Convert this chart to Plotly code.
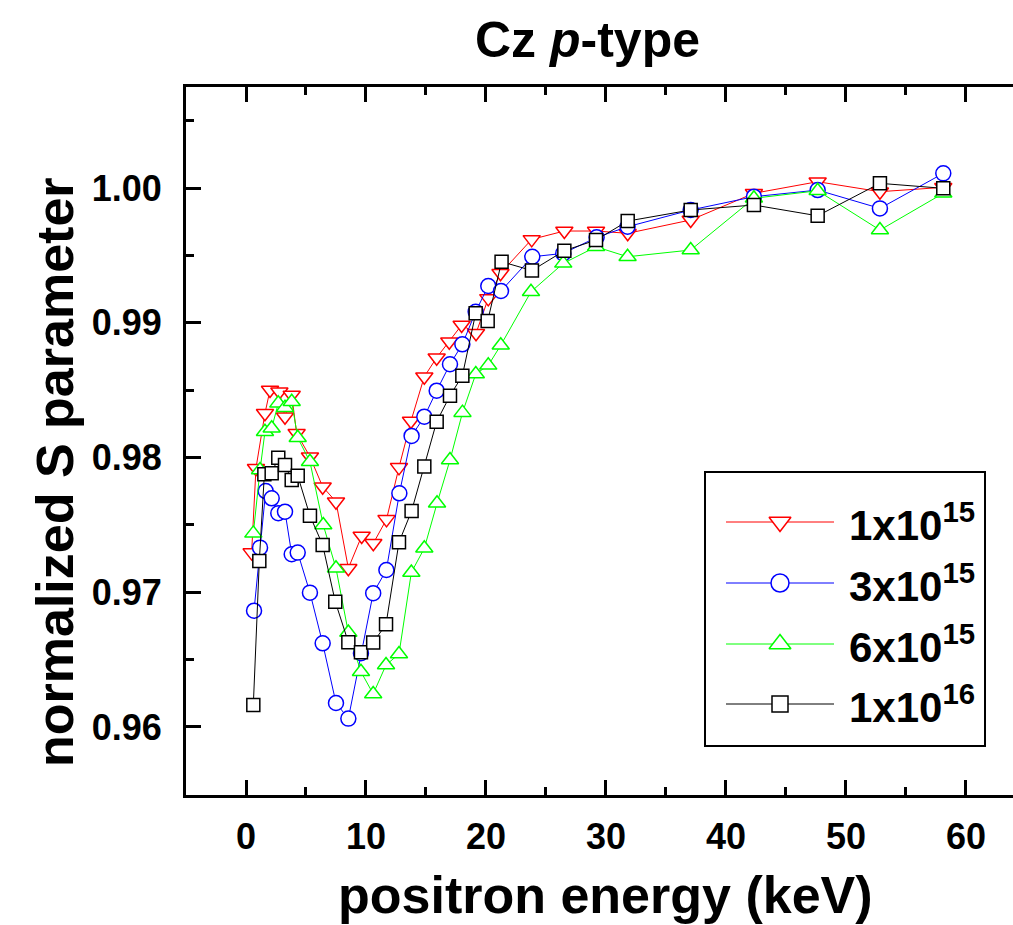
import plotly.graph_objects as go

# ---------------- data ----------------
E_1e15 = [0.47, 0.83, 1.58, 2.0, 2.78, 3.25, 3.81, 4.22, 5.33, 6.39, 7.5, 8.53, 9.64, 10.61, 11.71,
          12.75, 13.75, 14.86, 15.89, 16.94, 17.97, 19.17, 20.19, 21.21, 23.81, 26.53, 29.17, 31.81,
          37.06, 42.33, 47.64, 52.83, 58.11]
S_1e15 = [0.97294, 0.97920, 0.98328, 0.98501, 0.98488, 0.98303, 0.98464, 0.98180, 0.98006, 0.97783,
          0.97672, 0.97178, 0.97417, 0.97363, 0.97541, 0.97927, 0.98271, 0.98600, 0.98741, 0.98859,
          0.98983, 0.98922, 0.99181, 0.99367, 0.99619, 0.99681, 0.99681, 0.99664, 0.99763, 0.99961,
          1.00047, 0.99973, 1.00005]

E_3e15 = [0.67, 1.17, 1.64, 2.14, 2.69, 3.25, 3.81, 4.31, 5.33, 6.39, 7.5, 8.53, 9.58, 10.6, 11.7,
          12.78, 13.8, 14.86, 15.89, 17.0, 18.03, 19.14, 20.19, 21.25, 23.86, 26.44, 29.22, 31.8,
          37.06, 42.33, 47.64, 52.83, 58.11]
S_3e15 = [0.96863, 0.97331, 0.97751, 0.97697, 0.97586, 0.97598, 0.97282, 0.97294, 0.96997, 0.96621,
          0.96178, 0.96062, 0.96547, 0.96993, 0.97165, 0.97734, 0.98160, 0.98303, 0.98496, 0.98692,
          0.98840, 0.99082, 0.99273, 0.99236, 0.99490, 0.99515, 0.99634, 0.99713, 0.99837, 0.99936,
          0.99985, 0.99849, 1.00109]

E_6e15 = [0.61, 1.17, 1.58, 2.14, 2.69, 3.25, 3.81, 4.31, 5.33, 6.44, 7.5, 8.53, 9.58, 10.6, 11.67,
          12.75, 13.78, 14.86, 15.92, 17.0, 18.04, 19.15, 20.19, 21.23, 23.75, 26.44, 29.17, 31.8,
          37.06, 42.33, 47.64, 52.83, 58.11]
S_6e15 = [0.97437, 0.97907, 0.98191, 0.98217, 0.98402, 0.98370, 0.98414, 0.98147, 0.97969, 0.97499,
          0.97178, 0.96701, 0.96410, 0.96245, 0.96460, 0.96542, 0.97147, 0.97326, 0.97660, 0.97981,
          0.98333, 0.98620, 0.98684, 0.98833, 0.99230, 0.99441, 0.99564, 0.99490, 0.99540, 0.99924,
          0.99980, 0.99688, 0.99961]

E_1e16 = [0.61, 1.11, 1.53, 2.14, 2.69, 3.25, 3.81, 4.31, 5.33, 6.39, 7.44, 8.53, 9.58, 10.6, 11.67,
          12.75, 13.8, 14.86, 15.89, 17.0, 18.03, 19.14, 20.14, 21.3, 23.83, 26.53, 29.17, 31.81,
          37.06, 42.33, 47.64, 52.83, 58.11]
S_1e16 = [0.96163, 0.97232, 0.97875, 0.97883, 0.97999, 0.97944, 0.97833, 0.97865, 0.97568, 0.97351,
          0.96930, 0.96629, 0.96554, 0.96626, 0.96762, 0.97371, 0.97603, 0.97933, 0.98266, 0.98459,
          0.98607, 0.99070, 0.99013, 0.99453, 0.99388, 0.99535, 0.99614, 0.99755, 0.99837, 0.99874,
          0.99794, 1.00035, 0.99998]

series_labels = ["1x10<sup>15</sup>", "3x10<sup>15</sup>", "6x10<sup>15</sup>", "1x10<sup>16</sup>"]
x_tick_vals = [0, 10, 20, 30, 40, 50, 60]
y_tick_vals = [0.96, 0.97, 0.98, 0.99, 1.00]

# ---------------- styling ----------------
W, H = 1013, 925
L, R, T, B = 186, 1013, 87, 795   # plot area in pixels
FONT = "Liberation Sans, Arial, sans-serif"

def px(xp):
    return (xp - L) / (R - L)

def py(yp):
    return (B - yp) / (B - T)

styles = [
    dict(symbol="triangle-down", color="#ff0000", size=15, lsize=19),
    dict(symbol="circle", color="#0000ff", size=15, lsize=18),
    dict(symbol="triangle-up", color="#00ff00", size=15, lsize=19),
    dict(symbol="square", color="#000000", size=13, lsize=16),
]
datasets = [(E_1e15, S_1e15), (E_3e15, S_3e15), (E_6e15, S_6e15), (E_1e16, S_1e16)]

fig = go.Figure()
for (ex, sy), st, lab in zip(datasets, styles, series_labels):
    fig.add_trace(go.Scatter(
        x=ex, y=sy, mode="lines+markers", name=lab, showlegend=False,
        line=dict(color=st["color"], width=1),
        marker=dict(symbol=st["symbol"], size=st["size"], color="white",
                    line=dict(color=st["color"], width=1.5)),
        cliponaxis=False,
    ))

# ---------------- custom legend (pixel-space overlay axes) ----------------
leg_rows = [522, 583, 644, 704]
leg_x0, leg_xm, leg_x1, leg_tx = 726, 780, 834, 847
for row, st, lab in zip(leg_rows, styles, series_labels):
    fig.add_trace(go.Scatter(
        x=[leg_x0, leg_x1], y=[row, row], mode="lines", xaxis="x2", yaxis="y2",
        showlegend=False, hoverinfo="skip", line=dict(color=st["color"], width=1)))
    fig.add_trace(go.Scatter(
        x=[leg_xm], y=[row], mode="markers", xaxis="x2", yaxis="y2",
        showlegend=False, hoverinfo="skip",
        marker=dict(symbol=st["symbol"], size=st["lsize"], color="white",
                    line=dict(color=st["color"], width=1.5))))
    fig.add_annotation(x=leg_tx, y=row, xref="x2", yref="y2", text=lab, showarrow=False,
                       xanchor="left", yanchor="middle",
                       font=dict(family=FONT, size=42, color="black", weight="bold"))

fig.add_shape(type="rect", xref="paper", yref="paper",
              x0=px(705), x1=px(985), y0=py(746), y1=py(472),
              line=dict(color="black", width=2), fillcolor="rgba(0,0,0,0)", layer="below")

axis_common = dict(
    showline=True, linecolor="black", linewidth=3,
    ticks="inside", ticklen=15, tickwidth=2.5, tickcolor="black",
    showgrid=False, zeroline=False,
    tickfont=dict(family=FONT, size=36, color="black", weight="bold"),
)

fig.update_layout(
    width=W, height=H,
    margin=dict(l=L, r=W - R, t=T, b=H - B, pad=0),
    paper_bgcolor="white", plot_bgcolor="white",
    showlegend=False,
    xaxis=dict(range=[-5, 63.92], tickvals=x_tick_vals, mirror="ticks",
               minor=dict(dtick=5, tick0=0, ticks="inside", ticklen=8, tickwidth=2.5,
                          tickcolor="black"),
               ticklabelstandoff=8,
               **axis_common),
    yaxis=dict(range=[0.95495, 1.0075], tickvals=y_tick_vals, tickformat=".2f",
               minor=dict(dtick=0.005, tick0=0.96, ticks="inside", ticklen=8, tickwidth=2.5,
                          tickcolor="black"),
               ticklabelstandoff=14,
               **axis_common),
    xaxis2=dict(range=[L, R], overlaying="x", visible=False, fixedrange=True),
    yaxis2=dict(range=[B, T], overlaying="y", visible=False, fixedrange=True),
)

fig.add_annotation(x=px(587), y=py(40), xref="paper", yref="paper",
                   text="Cz <i>p</i>-type", showarrow=False, xanchor="center", yanchor="middle",
                   font=dict(family=FONT, size=50, color="black", weight="bold"))
fig.add_annotation(x=px(605), y=py(895), xref="paper", yref="paper",
                   text="positron energy (keV)", showarrow=False, xanchor="center",
                   yanchor="middle",
                   font=dict(family=FONT, size=52, color="black", weight="bold"))
fig.add_annotation(x=px(55), y=py(472), xref="paper", yref="paper",
                   text="normalized S parameter", showarrow=False, textangle=-90,
                   xanchor="center", yanchor="middle",
                   font=dict(family=FONT, size=52, color="black", weight="bold"))

fig.write_html("out.html")
